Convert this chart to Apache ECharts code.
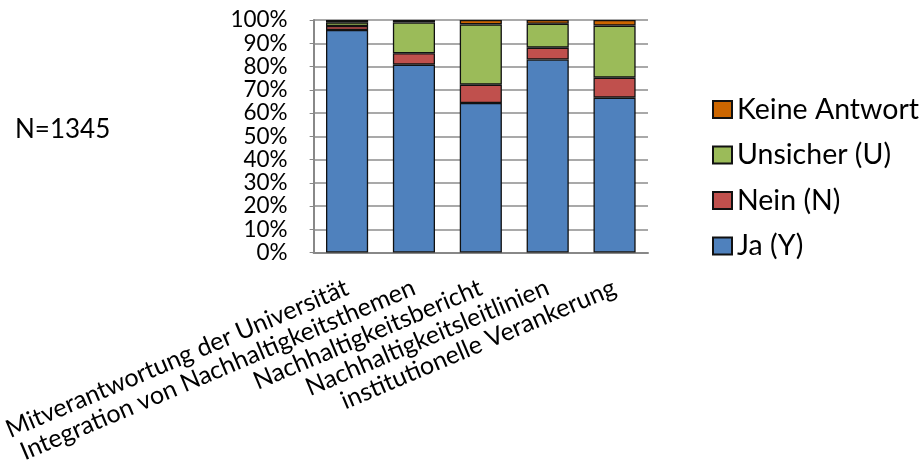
<!DOCTYPE html>
<html><head><meta charset="utf-8">
<script src="https://cdn.jsdelivr.net/npm/echarts@6/dist/echarts.min.js"></script>
<style>html,body{margin:0;padding:0;background:#fff}#c{width:924px;height:467px}</style>
</head><body><div id="c"></div>
<script>
const categories = ['Mitverantwortung der Universität','Integration von Nachhaltigkeitsthemen','Nachhaltigkeitsbericht','Nachhaltigkeitsleitlinien','institutionelle Verankerung'];
const ja = [95.7, 80.8, 64.3, 83.0, 66.6];
const nein = [1.7, 4.9, 7.9, 5.1, 8.6];
const unsicher = [1.6, 13.2, 25.9, 10.3, 22.4];
const keine = [1.0, 1.1, 1.9, 1.6, 2.4];
const seriesNames = ['Ja (Y)','Nein (N)','Unsicher (U)','Keine Antwort'];
const colors = ['#4F81BD','#C0504D','#9BBB59','#CC6600'];
const FONT = 'Lato';
const chart = echarts.init(document.getElementById('c'), null, {renderer:'canvas'});
const vals = [ja, nein, unsicher, keine];
chart.setOption({
  animation:false,
  textStyle:{fontFamily:FONT,color:'#000'},
  grid:{left:309, right:276, top:20, bottom:214.5},
  xAxis:{type:'category', data:categories,
    axisLine:{lineStyle:{color:'#888',width:2}}, axisTick:{show:false},
    axisLabel:{interval:0, rotate:23, margin:34, fontSize:25, color:'#000', fontFamily:FONT, hideOverlap:false}},
  yAxis:{type:'value', min:0, max:100, interval:10,
    axisLine:{show:true,lineStyle:{color:'#888',width:2}},
    axisTick:{show:true,length:4,lineStyle:{color:'#888'}},
    splitLine:{lineStyle:{color:'#8c8c8c',width:1.5}},
    axisLabel:{formatter:'{value}%', fontSize:22.5, lineHeight:16, color:'#000', margin:26, fontFamily:FONT,
      showMinLabel:true, showMaxLabel:true, hideOverlap:false}},
  legend:{orient:'vertical', left:707, top:90, itemWidth:19, itemHeight:17, itemGap:16.5, icon:'rect',
    data:['Keine Antwort','Unsicher (U)','Nein (N)','Ja (Y)'],
    textStyle:{fontSize:28.5, lineHeight:28, color:'#000', fontFamily:FONT}},
  graphic:[{type:'text', left:15, top:117, style:{text:'N=1345', fontSize:26, fontFamily:FONT, fill:'#000'}}],
  series: seriesNames.map((n,i)=>({name:n, type:'bar', stack:'s', barWidth:'63%', data:vals[i],
    itemStyle:{color:colors[i], borderColor:'#111', borderWidth:1.3}}))
});
</script></body></html>
